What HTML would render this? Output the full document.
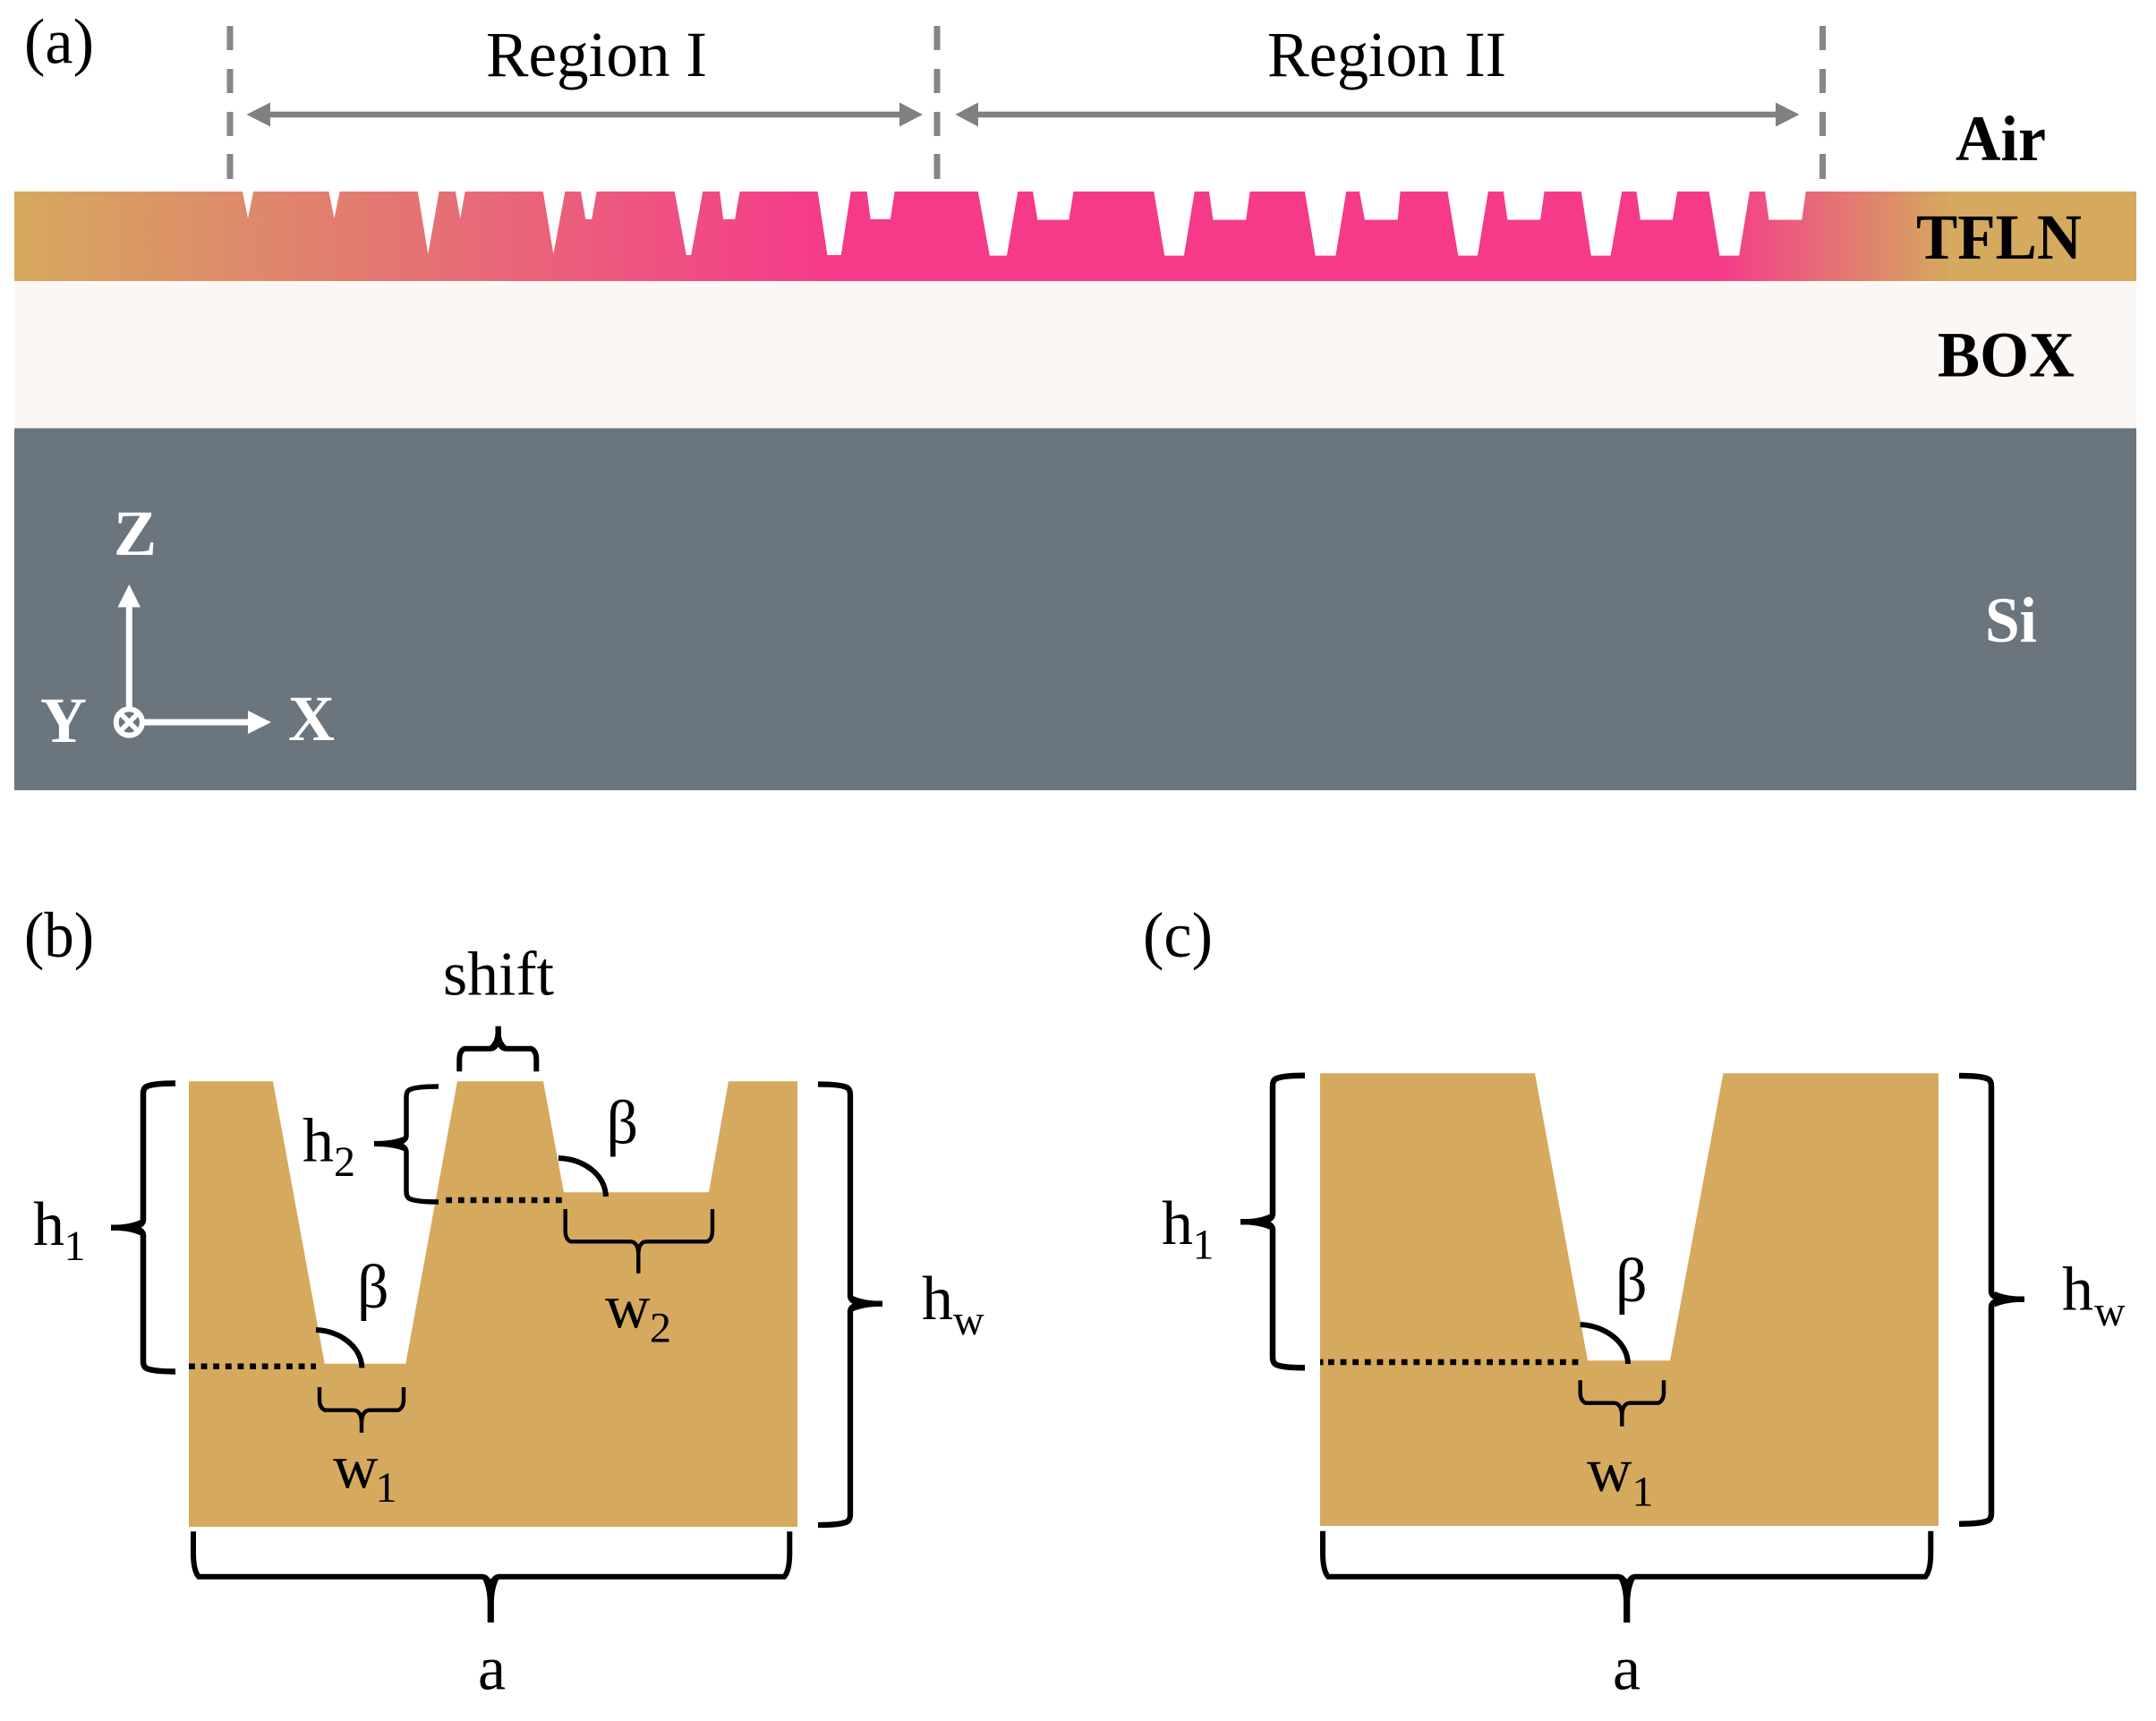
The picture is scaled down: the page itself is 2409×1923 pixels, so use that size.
<!DOCTYPE html>
<html>
<head>
<meta charset="utf-8">
<style>
html,body{margin:0;padding:0;background:#fff;}
svg{display:block;}
text{font-family:"Liberation Serif",serif;font-size:70px;fill:#000;}
.t{font-size:72px;}
.b{font-size:72px;font-weight:bold;}
.s{font-size:48px;}
.br{fill:none;stroke:#000;}
</style>
</head>
<body>
<svg width="2409" height="1923" viewBox="0 0 2409 1923" xmlns="http://www.w3.org/2000/svg">
<defs>
<linearGradient id="g" gradientUnits="userSpaceOnUse" x1="16" y1="0" x2="2387" y2="0">
<stop offset="0" stop-color="#d5a95e"/>
<stop offset="0.3855" stop-color="#f53a8a"/>
<stop offset="0.802" stop-color="#f53a8a"/>
<stop offset="0.9125" stop-color="#d5a95e"/>
<stop offset="1" stop-color="#d5a95e"/>
</linearGradient>
</defs>
<rect width="2409" height="1923" fill="#fff"/>

<!-- Layers -->
<rect x="16" y="214" width="2371" height="100" fill="url(#g)"/>
<rect x="16" y="314" width="2371" height="164.5" fill="#faf7f4"/>
<rect x="16" y="478.5" width="2371" height="404.5" fill="#6a757e"/>

<!-- Teeth -->
<g fill="#fff" transform="scale(.7653 .3333)">
<polygon points="353,630 371,630 362,732"/>
<polygon points="479,630 497,630 488,732"/>
<polygon points="609,630 642,630 625,852"/>
<polygon points="664,630 680,630 672,732"/>
<polygon points="792,630 826,630 808,852"/>
<polygon points="847,630 872,630 864,735 855,735"/>
<polygon points="984,630 1027,630 1009,855 1002,855"/>
<polygon points="1050,630 1081,630 1073,735 1056,735"/>
<polygon points="1193,630 1243,630 1228,855 1208,855"/>
<polygon points="1265,630 1307,630 1300,735 1271,735"/>
<polygon points="1427,630 1487,630 1470,857 1445,857"/>
</g>
<g fill="#fff" transform="translate(1100 0) scale(.8348 .3333)">
<polygon points="64,630 120,630 113,737 71,737"/>
<polygon points="226,630 282,630 267,857 241,857"/>
<polygon points="300,630 356,630 350,737 306,737"/>
<polygon points="428,630 485,630 470,857 443,857"/>
<polygon points="501,630 557,630 553,737 509,737"/>
<polygon points="619,630 675,630 660,857 634,857"/>
<polygon points="694,630 750,630 744,737 700,737"/>
<polygon points="798,630 854,630 838,857 812,857"/>
<polygon points="872,630 928,630 921,737 878,737"/>
<polygon points="969,630 1025,630 1010,857 984,857"/>
<polygon points="1044,630 1100,630 1094,737 1050,737"/>
</g>

<!-- Dashed lines -->
<g fill="#868686">
<rect x="253.5" y="29" width="7" height="27"/><rect x="253.5" y="77" width="7" height="27"/><rect x="253.5" y="125" width="7" height="27"/><rect x="253.5" y="172" width="7" height="28"/>
<rect x="1043.5" y="29" width="7" height="27"/><rect x="1043.5" y="77" width="7" height="27"/><rect x="1043.5" y="125" width="7" height="27"/><rect x="1043.5" y="172" width="7" height="28"/>
<rect x="2033" y="29" width="7" height="27"/><rect x="2033" y="77" width="7" height="27"/><rect x="2033" y="125" width="7" height="27"/><rect x="2033" y="172" width="7" height="28"/>
</g>

<!-- Region arrows -->
<g fill="#808080">
<rect x="300" y="124.7" width="707" height="6.6"/>
<polygon points="275.5,128 302,114.5 302,141.5"/>
<polygon points="1031,128 1005,114.5 1005,141.5"/>
<rect x="1091" y="124.7" width="895" height="6.6"/>
<polygon points="1067.5,128 1093,114.5 1093,141.5"/>
<polygon points="2010.5,128 1984,114.5 1984,141.5"/>
</g>

<!-- Panel a text -->
<text class="t" x="27" y="70.5" textLength="78" lengthAdjust="spacingAndGlyphs">(a)</text>
<text class="t" x="543" y="85" textLength="247" lengthAdjust="spacingAndGlyphs">Region I</text>
<text class="t" x="1416" y="85" textLength="267" lengthAdjust="spacingAndGlyphs">Region II</text>
<text class="b" x="2185" y="179" textLength="101" lengthAdjust="spacingAndGlyphs">Air</text>
<text class="b" x="2141" y="289" textLength="185" lengthAdjust="spacingAndGlyphs">TFLN</text>
<text class="b" x="2165" y="420.5" textLength="153" lengthAdjust="spacingAndGlyphs">BOX</text>
<text class="b" x="2218" y="717" textLength="58" lengthAdjust="spacingAndGlyphs" style="fill:#fff">Si</text>

<!-- Axes -->
<g fill="#fff" stroke="none">
<rect x="140.8" y="676" width="7" height="116"/>
<polygon points="144.3,653 131.5,678.5 157,678.5"/>
<rect x="160" y="803.5" width="120" height="7"/>
<polygon points="303,807 277,794 277,820"/>
</g>
<circle cx="144.3" cy="807" r="14.6" fill="#6a757e" stroke="#fff" stroke-width="6"/>
<path d="M134.3 797 L154.3 817 M154.3 797 L134.3 817" stroke="#fff" stroke-width="5.5" fill="none"/>
<text class="b" x="127" y="620" style="fill:#fff">Z</text>
<text class="b" x="45" y="829" style="fill:#fff">Y</text>
<text class="b" x="322" y="827" style="fill:#fff">X</text>

<!-- Panel b -->
<polygon fill="#d5a95e" points="211,1208.3 305,1208.3 362.7,1523.7 453.3,1523.7 511,1208.3 607,1208.3 630,1332.3 792,1332.3 814,1208.3 891,1208.3 891,1706 211,1706"/>

<!-- dotted -->
<line x1="211" y1="1526.7" x2="353" y2="1526.7" stroke="#000" stroke-width="6.5" stroke-dasharray="6.8 6.83"/>
<line x1="498.3" y1="1341" x2="628" y2="1341" stroke="#000" stroke-width="6.5" stroke-dasharray="6.8 6.83"/>

<!-- arcs -->
<path class="br" stroke-width="6" d="M353 1486 C380 1487 404 1505 404.3 1528.5"/>
<path class="br" stroke-width="6" d="M624 1294 C652 1295 676 1312 677 1337"/>

<!-- h1 brace b -->
<path class="br" stroke-width="6.5" d="M196 1210.5 c-14 0 -28 1 -33 4 q-3 2 -3 8 V1362.7 c0 6 -8 9 -16 9 H124"/>
<path class="br" stroke-width="6.5" d="M196 1532.5 c-14 0 -28 -1 -33 -4 q-3 -2 -3 -8 V1380.7 c0 -6 -8 -9 -16 -9"/>
<path d="M124 1368.7 C138 1368.7 148 1367 157 1363 V1380.4 C148 1376.4 138 1374.7 124 1374.7 Z"/>
<!-- h2 brace -->
<path class="br" stroke-width="5.5" d="M490 1214 c-14 0 -28 1 -33 4 q-3 2 -3 8 V1269 c0 6 -8 9 -16 9 H418"/>
<path class="br" stroke-width="5.5" d="M490 1343 c-14 0 -28 -1 -33 -4 q-3 -2 -3 -8 V1287 c0 -6 -8 -9 -16 -9"/>
<path d="M418 1275 C432 1275 442 1273.5 451 1270 V1286 C442 1282.5 432 1281 418 1281 Z"/>
<!-- hw brace b -->
<path class="br" stroke-width="6.3" d="M914 1211.5 c14 0 28 1 33 4 q3 2 3 8 V1447.7 c0 6 8 9 16 9 H986"/>
<path class="br" stroke-width="6.3" d="M914 1704 c14 0 28 -1 33 -4 q3 -2 3 -8 V1465.7 c0 -6 8 -9 16 -9"/>
<path d="M986 1453.7 C972 1453.7 962 1452 953 1448 V1465.4 C962 1461.4 972 1459.7 986 1459.7 Z"/>
<!-- shift brace -->
<path class="br" stroke-width="6" d="M513.3 1197.3 V1184 Q513.3 1174 519.3 1171.7 H547.7 c6 0 9 -6 9 -14 V1146.7"/>
<path class="br" stroke-width="6" d="M599.3 1197.3 V1184 Q599.3 1174 593.3 1171.7 H565.7 c-6 0 -9 -6 -9 -14"/>
<path d="M553.5 1146.7 V1155 C553 1162 550 1166 547 1169 H566 C563 1166 560 1162 559.8 1155 V1146.7 Z"/>
<!-- w2 brace -->
<path class="br" stroke-width="4.4" d="M631.7 1351 V1375 Q631.7 1385 637.7 1387.3 H704.3 c6 0 9 6 9 14 V1422.7"/>
<path class="br" stroke-width="4.4" d="M796 1351 V1375 Q796 1385 790 1387.3 H722.3 c-6 0 -9 6 -9 14"/>
<!-- w1 brace -->
<path class="br" stroke-width="4.4" d="M357 1550 V1564 Q357 1573 363 1575.7 H395 c6 0 9 6 9 14 V1600.7"/>
<path class="br" stroke-width="4.4" d="M451 1550 V1564 Q451 1573 445 1575.7 H413 c-6 0 -9 6 -9 14"/>
<!-- a brace b -->
<path class="br" stroke-width="6" d="M216 1711.3 V1735 Q216 1755 222 1761.7 H538.3 c7 0 10 8 10 20 V1812.7"/>
<path class="br" stroke-width="6" d="M882.3 1711.3 V1735 Q882.3 1755 876.3 1761.7 H558.3 c-7 0 -10 8 -10 20"/>
<path d="M539 1764 C542 1770 544.5 1778 544.7 1790 V1812.7 H551.9 V1790 C552.1 1778 554.6 1770 557.6 1764 Z"/>

<!-- Panel b text -->
<text class="t" x="27" y="1069" textLength="78" lengthAdjust="spacingAndGlyphs">(b)</text>
<text x="495" y="1111.7" textLength="124" lengthAdjust="spacingAndGlyphs">shift</text>
<text x="37" y="1391">h</text><text class="s" x="71.5" y="1408">1</text>
<text x="338" y="1297.3">h</text><text class="s" x="373" y="1314">2</text>
<text x="399" y="1461">β</text>
<text x="677.5" y="1277.5">β</text>
<text x="372" y="1662.7">w</text><text class="s" x="419.5" y="1678">1</text>
<text x="676" y="1483.3">w</text><text class="s" x="726" y="1499.3">2</text>
<text x="1030" y="1474">h</text><text class="s" x="1065" y="1491">w</text>
<text x="534" y="1887.7">a</text>

<!-- Panel c -->
<polygon fill="#d5a95e" points="1475,1199.3 1715,1199.3 1774,1520.3 1866,1520.3 1925.5,1199.3 2166,1199.3 2166,1705 1475,1705"/>
<rect x="1475" y="1518.8" width="3.5" height="6.5" fill="#000"/>
<line x1="1484" y1="1522" x2="1764" y2="1522" stroke="#000" stroke-width="6.5" stroke-dasharray="6.8 6.83"/>
<path class="br" stroke-width="6" d="M1765.7 1480 C1793 1481 1819 1500 1819 1524"/>
<!-- h1 brace c -->
<path class="br" stroke-width="6.5" d="M1458 1201.7 c-14 0 -28 1 -33 4 q-3 2 -3 8 V1356.3 c0 6 -8 9 -16 9 H1386"/>
<path class="br" stroke-width="6.5" d="M1458 1528.3 c-14 0 -28 -1 -33 -4 q-3 -2 -3 -8 V1374.3 c0 -6 -8 -9 -16 -9"/>
<path d="M1386 1362.3 C1400 1362.3 1410 1360.6 1419 1356.6 V1374 C1410 1370 1400 1368.3 1386 1368.3 Z"/>
<!-- hw brace c -->
<path class="br" stroke-width="6.5" d="M2189 1202 c14 0 28 1 33 4 q3 2 3 8 V1442.7 c0 6 8 9 16 9 H2262"/>
<path class="br" stroke-width="6.5" d="M2189 1702.7 c14 0 28 -1 33 -4 q3 -2 3 -8 V1460.7 c0 -6 8 -9 16 -9"/>
<path d="M2262 1448.7 C2248 1448.7 2238 1447 2229 1443 V1460.4 C2238 1456.4 2248 1454.7 2262 1454.7 Z"/>
<!-- w1 brace c -->
<path class="br" stroke-width="4.4" d="M1765.7 1542.3 V1556 Q1765.7 1565 1771.7 1567.7 H1803.3 c6 0 9 6 9 14 V1593.7"/>
<path class="br" stroke-width="4.4" d="M1859 1542.3 V1556 Q1859 1565 1853 1567.7 H1821.3 c-6 0 -9 6 -9 14"/>
<!-- a brace c -->
<path class="br" stroke-width="6" d="M1478 1710.7 V1735 Q1478 1755 1484 1761.7 H1807.7 c7 0 10 8 10 20 V1813"/>
<path class="br" stroke-width="6" d="M2157.3 1710.7 V1735 Q2157.3 1755 2151.3 1761.7 H1827.7 c-7 0 -10 8 -10 20"/>
<path d="M1808.4 1764 C1811.4 1770 1813.9 1778 1814.1 1790 V1813 H1821.3 V1790 C1821.5 1778 1824 1770 1827 1764 Z"/>

<!-- Panel c text -->
<text class="t" x="1277" y="1069" textLength="78" lengthAdjust="spacingAndGlyphs">(c)</text>
<text x="1298" y="1390">h</text><text class="s" x="1332.5" y="1406.7">1</text>
<text x="1805" y="1454">β</text>
<text x="1773" y="1666">w</text><text class="s" x="1823.5" y="1682.7">1</text>
<text x="2304" y="1463.3">h</text><text class="s" x="2340" y="1481">w</text>
<text x="1802" y="1887.7">a</text>
</svg>
</body>
</html>
